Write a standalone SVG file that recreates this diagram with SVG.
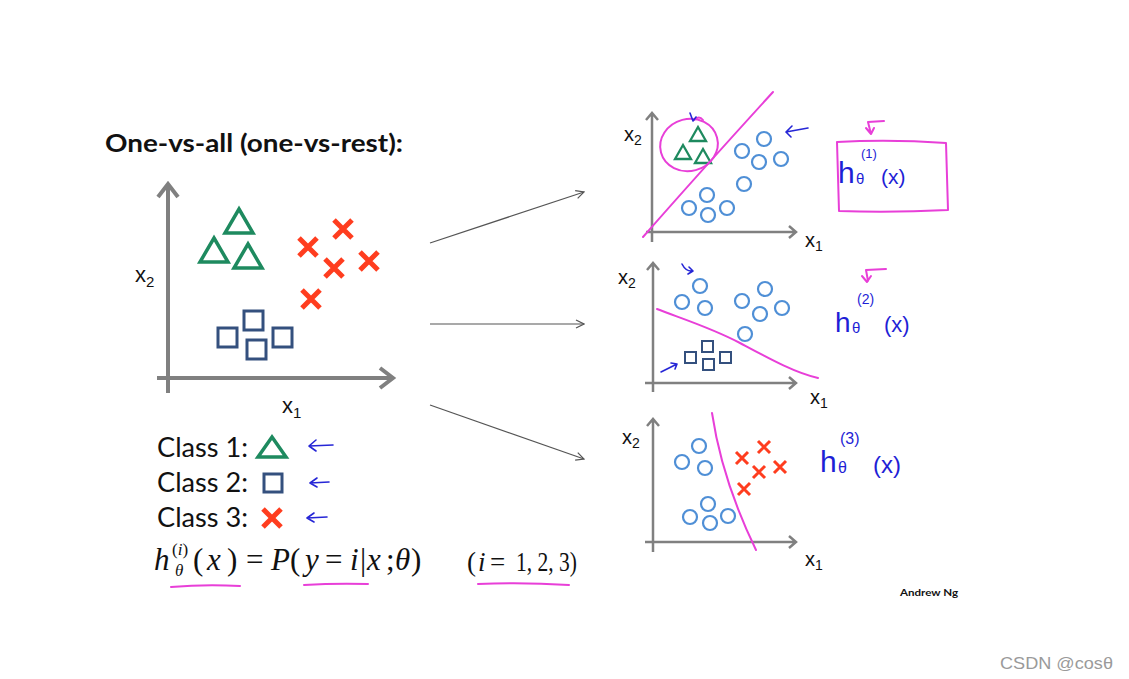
<svg xmlns="http://www.w3.org/2000/svg" width="1129" height="679" viewBox="0 0 1129 679">
<defs>
<style>
.ax{stroke:#808080;fill:none;stroke-linecap:butt}
.tri{fill:none;stroke:#1e8a5f;stroke-linejoin:miter}
.sq{fill:none;stroke:#34507e}
.cr{stroke:#ff3d1f;stroke-linecap:butt;fill:none}
.ci{fill:none;stroke:#4f8fd6;stroke-width:2.2}
.pink{fill:none;stroke:#e83fd8;stroke-width:2;stroke-linecap:round;stroke-linejoin:round}
.blue{fill:none;stroke:#2626d6;stroke-width:1.6;stroke-linecap:round;stroke-linejoin:round}
.hw{font-family:"Liberation Sans",Arial,sans-serif;fill:#1f1fd6}
.lbl{font-family:"Liberation Sans",Arial,sans-serif;fill:#111}
.cal{font-family:Lato,"Liberation Sans",sans-serif;fill:#111}
.math{font-family:"Liberation Serif","DejaVu Serif",serif;fill:#111}
.conn{stroke:#555;stroke-width:1.2;fill:none}
.it{font-style:italic}
</style>
<marker id="ah" viewBox="0 0 10 10" refX="9" refY="5" markerWidth="10" markerHeight="10" markerUnits="userSpaceOnUse" orient="auto">
<path d="M1,1 L9,5 L1,9" fill="none" stroke="#555" stroke-width="1.2"/>
</marker>
<path id="triL" d="M0,-12 L14,12 L-14,12 Z"/>
<path id="triS" d="M0,-7 L8,7 L-8,7 Z"/>
<path id="crL" d="M-9,-9 L9,9 M9,-9 L-9,9"/>
<path id="crS" d="M-6,-6 L6,6 M6,-6 L-6,6"/>
</defs>
<rect width="1129" height="679" fill="#ffffff"/>

<g id="title">
<text class="cal" x="105" y="152" font-size="25" font-weight="bold" textLength="298" lengthAdjust="spacingAndGlyphs">One-vs-all (one-vs-rest):</text>
</g>

<g id="main-plot">
<path class="ax" stroke-width="4" d="M168,393 L168,184 M158,197 L168,184 L178,197 M157,378 L393,378 M380,368 L393,378 L380,388"/>
<text class="lbl" x="135" y="282" font-size="22">x<tspan font-size="15" dy="5">2</tspan></text>
<text class="lbl" x="282" y="413" font-size="22">x<tspan font-size="15" dy="5">1</tspan></text>
<g class="tri" stroke-width="3.5">
<use href="#triL" x="239" y="221"/>
<use href="#triL" x="214" y="250"/>
<use href="#triL" x="248" y="256"/>
</g>
<g class="cr" stroke-width="5">
<use href="#crL" x="308" y="247"/>
<use href="#crL" x="343" y="229"/>
<use href="#crL" x="334" y="268"/>
<use href="#crL" x="369" y="261"/>
<use href="#crL" x="311" y="299"/>
</g>
<g class="sq" stroke-width="3">
<rect x="244" y="311" width="19" height="19"/>
<rect x="218" y="328" width="19" height="19"/>
<rect x="247" y="340" width="19" height="19"/>
<rect x="273" y="328" width="19" height="19"/>
</g>
</g>

<g id="legend">
<text class="cal" x="157" y="457" font-size="27" textLength="91" lengthAdjust="spacingAndGlyphs">Class 1:</text>
<text class="cal" x="157" y="492" font-size="27" textLength="91" lengthAdjust="spacingAndGlyphs">Class 2:</text>
<text class="cal" x="157" y="527" font-size="27" textLength="91" lengthAdjust="spacingAndGlyphs">Class 3:</text>
<path class="tri" stroke-width="3.5" d="M272,437 L286,457 L258,457 Z"/>
<rect class="sq" stroke-width="3" x="264" y="474" width="18" height="18"/>
<use href="#crL" class="cr" stroke-width="5" x="272" y="518"/>
<path class="blue" d="M333,445 L309,446 M316,440 L309,446 L316,451"/>
<path class="blue" d="M329,482 L310,483 M317,478 L310,483 L317,487"/>
<path class="blue" d="M327,517 L307,518 M314,513 L307,518 L314,522"/>
</g>

<g id="formula">
<text class="math" font-size="31"><tspan x="154" y="570" class="it">h</tspan><tspan x="172" y="555" font-size="17">(</tspan><tspan class="it" font-size="17">i</tspan><tspan font-size="17">)</tspan><tspan x="175" y="576" font-size="17" class="it">θ</tspan><tspan x="193" y="570">(</tspan><tspan x="207" class="it">x</tspan><tspan x="227">)</tspan><tspan x="246">=</tspan><tspan x="271" class="it">P</tspan><tspan x="290">(</tspan><tspan x="305" class="it">y</tspan><tspan x="325">=</tspan><tspan x="350" class="it">i</tspan><tspan x="360">|</tspan><tspan x="367" class="it">x</tspan><tspan x="386">;</tspan><tspan x="395" class="it">θ</tspan><tspan x="411">)</tspan></text>
<text class="math" font-size="27"><tspan x="467" y="571">(</tspan><tspan x="478" class="it">i</tspan><tspan x="490">=</tspan><tspan x="516" textLength="61" lengthAdjust="spacingAndGlyphs">1, 2, 3)</tspan></text>
<path class="pink" d="M171,587 Q205,584 240,586"/>
<path class="pink" d="M304,585 Q336,583 368,584"/>
<path class="pink" d="M478,584 Q522,582 569,585"/>
</g>

<g id="connectors">
<line class="conn" x1="430" y1="243" x2="584" y2="192" marker-end="url(#ah)"/>
<line class="conn" x1="430" y1="324" x2="584" y2="324" marker-end="url(#ah)"/>
<line class="conn" x1="430" y1="405" x2="584" y2="459" marker-end="url(#ah)"/>
</g>

<g id="plot-1">
<path class="ax" stroke-width="2.5" d="M652,242 L652,113 M646,120 L652,113 L658,120 M646,232 L796,232 M789,226 L796,232 L789,238"/>
<text class="lbl" x="624" y="141" font-size="20">x<tspan font-size="14" dy="4">2</tspan></text>
<text class="lbl" x="805" y="247" font-size="20">x<tspan font-size="14" dy="4">1</tspan></text>
<g class="tri" stroke-width="2.3">
<use href="#triS" x="698" y="134"/>
<use href="#triS" x="683" y="152"/>
<use href="#triS" x="703" y="156"/>
</g>
<g class="ci">
<circle cx="764" cy="139" r="7"/><circle cx="742" cy="151" r="7"/><circle cx="759" cy="162" r="7"/>
<circle cx="781" cy="159" r="7"/><circle cx="744" cy="184" r="7"/><circle cx="707" cy="195" r="7"/>
<circle cx="689" cy="208" r="7"/><circle cx="708" cy="215" r="7"/><circle cx="727" cy="208" r="7"/>
</g>
<path class="pink" d="M643,237 Q700,172 773,92"/>
<ellipse class="pink" cx="689" cy="145" rx="29" ry="26" transform="rotate(-15 689 145)"/>
<path class="pink" d="M694,120 Q699,115 703,120"/>
<path class="blue" d="M690,113 L693,121 L696,117"/>
<path class="blue" d="M808,128 L786,132 M792,126 L786,132 L791,137"/>
<path class="pink" d="M837,142 Q890,139 946,143 L948,210 Q890,213 839,211 Z"/>
<path class="pink" d="M884,121 L868,122 L871,134 M866,128 L871,134 L874,128"/>
<text class="hw" font-size="30"><tspan x="838" y="183">h</tspan><tspan x="856" y="184" font-size="15">θ</tspan><tspan x="861" y="158" font-size="13">(1)</tspan><tspan x="881" y="184" font-size="21">(x)</tspan></text>
</g>

<g id="plot-2">
<path class="ax" stroke-width="2.5" d="M653,392 L653,263 M647,270 L653,263 L659,270 M645,383 L796,383 M789,377 L796,383 L789,389"/>
<text class="lbl" x="618" y="284" font-size="20">x<tspan font-size="14" dy="4">2</tspan></text>
<text class="lbl" x="810" y="404" font-size="20">x<tspan font-size="14" dy="4">1</tspan></text>
<g class="ci">
<circle cx="700" cy="286" r="7"/><circle cx="682" cy="302" r="7"/><circle cx="705" cy="308" r="7"/>
<circle cx="742" cy="301" r="7"/><circle cx="765" cy="289" r="7"/><circle cx="760" cy="314" r="7"/>
<circle cx="782" cy="308" r="7"/><circle cx="745" cy="334" r="7"/>
</g>
<g class="sq" stroke-width="2">
<rect x="702" y="341" width="11" height="11"/>
<rect x="685" y="352" width="11" height="11"/>
<rect x="703" y="359" width="11" height="11"/>
<rect x="720" y="352" width="11" height="11"/>
</g>
<path class="pink" d="M657,309 C680,318 712,328 740,343 S795,373 818,378"/>
<path class="blue" d="M682,264 Q686,272 693,271 M689,267 L693,271 L688,274"/>
<path class="blue" d="M661,372 L677,364 M671,363 L677,364 L675,369"/>
<path class="pink" d="M886,269 L866,270 L868,281 M862,276 L867,282 L871,276"/>
<text class="hw" font-size="28"><tspan x="835" y="332">h</tspan><tspan x="852" y="333" font-size="15">θ</tspan><tspan x="857" y="304" font-size="14">(2)</tspan><tspan x="884" y="332" font-size="22">(x)</tspan></text>
</g>

<g id="plot-3">
<path class="ax" stroke-width="2.5" d="M653,552 L653,419 M647,426 L653,419 L659,426 M645,542 L796,542 M789,536 L796,542 L789,548"/>
<text class="lbl" x="622" y="444" font-size="20">x<tspan font-size="14" dy="4">2</tspan></text>
<text class="lbl" x="805" y="566" font-size="20">x<tspan font-size="14" dy="4">1</tspan></text>
<g class="ci">
<circle cx="699" cy="446" r="7"/><circle cx="682" cy="462" r="7"/><circle cx="705" cy="468" r="7"/>
<circle cx="708" cy="504" r="7"/><circle cx="690" cy="517" r="7"/><circle cx="710" cy="523" r="7"/>
<circle cx="728" cy="516" r="7"/>
</g>
<g class="cr" stroke-width="3">
<use href="#crS" x="742" y="458"/>
<use href="#crS" x="764" y="447"/>
<use href="#crS" x="759" y="472"/>
<use href="#crS" x="780" y="467"/>
<use href="#crS" x="744" y="489"/>
</g>
<path class="pink" d="M712,413 Q722,480 756,550"/>
<text class="hw" font-size="30"><tspan x="820" y="472">h</tspan><tspan x="838" y="473" font-size="16">θ</tspan><tspan x="840" y="444" font-size="16">(3)</tspan><tspan x="873" y="473" font-size="24">(x)</tspan></text>
</g>

<g id="credits">
<text class="cal" x="900" y="596" font-size="10" font-weight="bold" fill="#333" textLength="58" lengthAdjust="spacingAndGlyphs">Andrew Ng</text>
<text x="1000" y="669" font-family="'Liberation Sans',Arial,sans-serif" font-size="17" fill="#9a9a9a" textLength="113" lengthAdjust="spacingAndGlyphs">CSDN @cosθ</text>
</g>
</svg>
